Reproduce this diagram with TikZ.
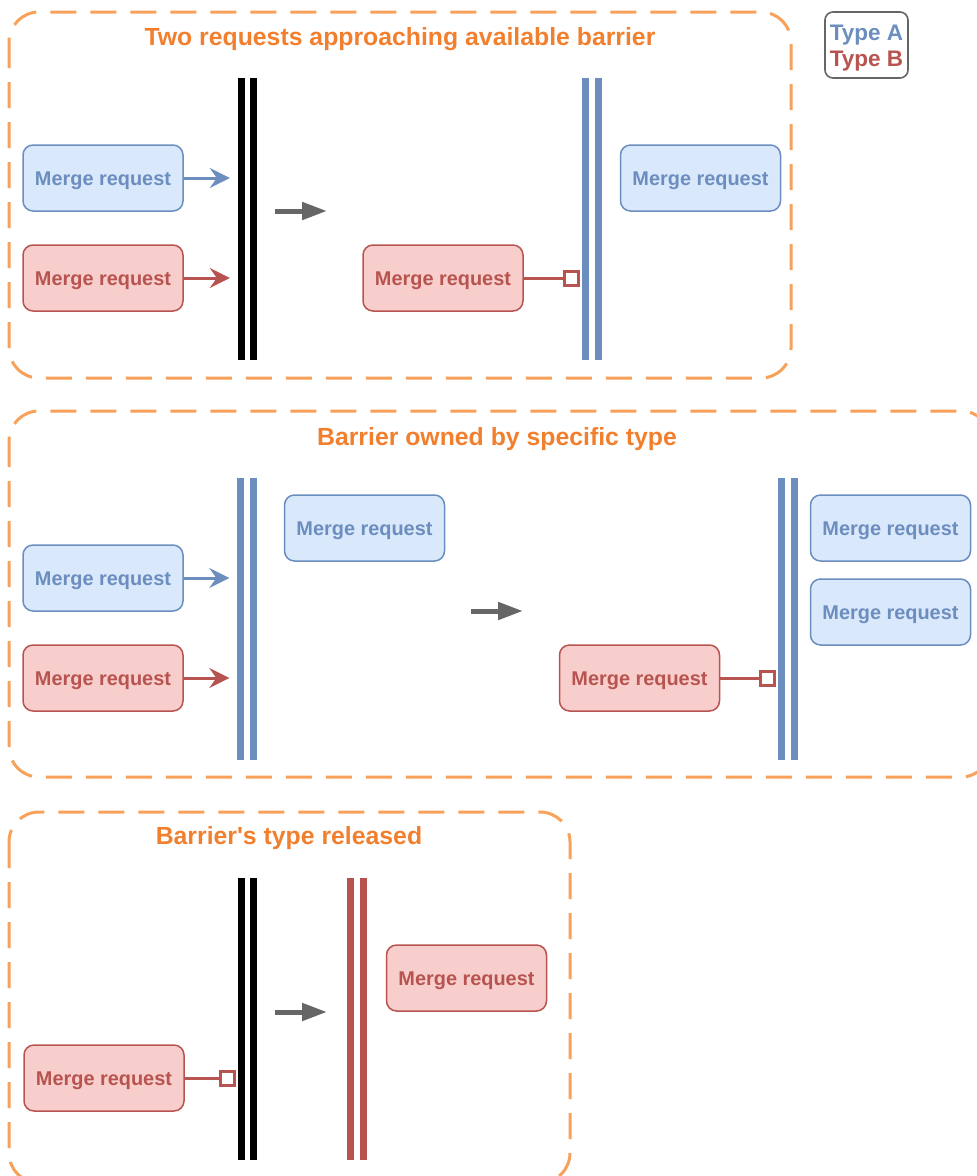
\documentclass[tikz,border=0pt]{standalone}
\usepackage{fontspec}
\setmainfont{Liberation Sans}
\usetikzlibrary{arrows.meta,calc}
\definecolor{blueS}{HTML}{6C8EBF}
\definecolor{blueF}{HTML}{DAE8FC}
\definecolor{redS}{HTML}{B85450}
\definecolor{redF}{HTML}{F8CECC}
\definecolor{panelEdge}{HTML}{F8A15A}
\definecolor{panelText}{HTML}{F27F2E}
\definecolor{moveGray}{HTML}{666666}
\begin{document}
\begin{tikzpicture}[x=1pt,y=-1pt,
  req/.style={rounded corners=10pt, line width=1.5pt, minimum width=160pt,
    minimum height=66pt, inner sep=0pt, text height=14.4pt, text depth=0pt,
    font=\bfseries\fontsize{19.9}{22}\selectfont},
  reqA/.style={req, draw=blueS, fill=blueF, text=blueS},
  reqB/.style={req, draw=redS, fill=redF, text=redS},
  panel/.style={draw=panelEdge, line width=3pt, dash pattern=on 26pt off 14pt,
    rounded corners=30pt},
  title/.style={text=panelText, text height=17.6pt, text depth=0pt,
    font=\bfseries\fontsize{24.8}{27}\selectfont},
  barrier/.style={minimum width=19pt, minimum height=282pt, inner sep=0pt},
  feedA/.style={draw=blueS, line width=3pt, shorten >=8pt,
    -{Stealth[length=20pt,width=20pt,inset=7pt]}},
  feedB/.style={draw=redS, line width=3pt, shorten >=8pt,
    -{Stealth[length=20pt,width=20pt,inset=7pt]}},
  move/.style={draw=moveGray, line width=5pt, -{Triangle[length=25pt,width=17pt]}},
  lock/.style={draw=redS, fill=white, line width=3pt, minimum size=14pt, inner sep=0pt},
  locklink/.style={draw=redS, line width=3pt},
]
\useasboundingbox (0,0) rectangle (977,1176);
\clip (0,0) rectangle (977,1176);

% double-line barrier drawn inside a named node
\newcommand{\gate}[3]{%
  \node[barrier] (#1) at #2 {};
  \draw[line width=7pt, #3] ([xshift=3.5pt]#1.north west) -- ([xshift=3.5pt]#1.south west);
  \draw[line width=7pt, #3] ([xshift=-3.5pt]#1.north east) -- ([xshift=-3.5pt]#1.south east);
}

% ---------- panels ----------
\draw[panel] (9,12) rectangle (791,378);
\draw[panel] (9,411) rectangle (991,777);
\draw[panel] (9,812) rectangle (570,1183);

\node[title] (t1) at (400,37) {Two requests approaching available barrier};
\node[title] (t2) at (497,437) {Barrier owned by specific type};
\node[title] (t3) at (289,836) {Barrier\textquotesingle s type released};

% ---------- legend ----------
\node[draw=moveGray, line width=1.6pt, rounded corners=8pt, minimum width=83pt,
  minimum height=66pt, inner sep=0pt] (legend) at (866.5,45) {};
\node[text=blueS, font=\bfseries\fontsize{22.5}{27}\selectfont, text height=16.2pt,
  text depth=0pt, inner sep=0pt] (ta) at (866.5,32.5) {Type A};
\node[text=redS, font=\bfseries\fontsize{22.5}{27}\selectfont, text height=16.2pt,
  text depth=0pt, inner sep=0pt] (tb) at (866.5,58.5) {Type B};

% ---------- panel 1 ----------
\gate{K1}{(247.5,219)}{black}
\gate{A1}{(592,219)}{blueS}
\node[reqA] (a1) at (103,178) {Merge request};
\node[reqB] (b1) at (103,278) {Merge request};
\node[reqB] (b1r) at (443,278) {Merge request};
\node[reqA] (a1r) at (700.5,178) {Merge request};
\draw[feedA] (a1.east) -- (K1.west |- a1.east);
\draw[feedB] (b1.east) -- (K1.west |- b1.east);
\coordinate (m1s) at (275,211);
\coordinate (m1e) at (327,211);
\draw[move] (m1s) -- (m1e);
\node[lock] (s1) at ($(A1.west |- b1r.east)+(-11,0)$) {};
\draw[locklink] (b1r.east) -- (s1.west);

% ---------- panel 2 ----------
\gate{A2}{(247,619)}{blueS}
\gate{A2r}{(788,619)}{blueS}
\node[reqA] (a2t) at (364.5,528) {Merge request};
\node[reqA] (a2) at (103,578) {Merge request};
\node[reqB] (b2) at (103,678) {Merge request};
\node[reqB] (b2r) at (639.5,678) {Merge request};
\node[reqA] (a2r1) at (890.5,528) {Merge request};
\node[reqA] (a2r2) at (890.5,612) {Merge request};
\draw[feedA] (a2.east) -- (A2.west |- a2.east);
\draw[feedB] (b2.east) -- (A2.west |- b2.east);
\coordinate (m2s) at (471,611);
\coordinate (m2e) at (523,611);
\draw[move] (m2s) -- (m2e);
\node[lock] (s2) at ($(A2r.west |- b2r.east)+(-11,0)$) {};
\draw[locklink] (b2r.east) -- (s2.west);

% ---------- panel 3 ----------
\gate{K3}{(247.5,1019)}{black}
\gate{B3}{(357,1019)}{redS}
\node[reqB] (b3) at (104,1078) {Merge request};
\node[reqB] (b3r) at (466.5,978) {Merge request};
\coordinate (m3s) at (275,1012);
\coordinate (m3e) at (327,1012);
\draw[move] (m3s) -- (m3e);
\node[lock] (s3) at ($(K3.west |- b3.east)+(-10,0)$) {};
\draw[locklink] (b3.east) -- (s3.west);
\end{tikzpicture}
\end{document}
